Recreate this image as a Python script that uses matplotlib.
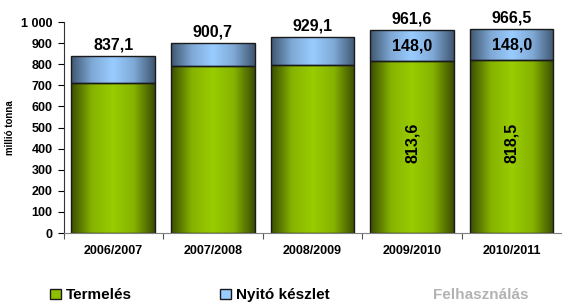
import matplotlib
matplotlib.use("Agg")
import matplotlib.pyplot as plt
import numpy as np
from matplotlib.colors import LinearSegmentedColormap
from matplotlib.patches import Patch

# data
years = ["2006/2007", "2007/2008", "2008/2009", "2009/2010", "2010/2011"]
termeles = [711.0, 791.0, 796.0, 813.6, 818.5]
totals = [837.1, 900.7, 929.1, 961.6, 966.5]
nyito = [t - p for t, p in zip(totals, termeles)]
inner_labels = ["", "", "", "813,6", "818,5"]
stock_labels = ["", "", "", "148,0", "148,0"]
top_labels = ["837,1", "900,7", "929,1", "961,6", "966,5"]

plt.rcParams['font.family'] = ['Liberation Sans', 'DejaVu Sans']
plt.rcParams['font.weight'] = 'bold'

green_cmap = LinearSegmentedColormap.from_list(
    "g", ["#3a4c00", "#86b300", "#99cc00", "#86b300", "#3a4c00"])
blue_cmap = LinearSegmentedColormap.from_list(
    "b", ["#3f5670", "#7fa9d6", "#99ccff", "#7fa9d6", "#3f5670"])

fig = plt.figure(figsize=(5.62, 3.03), dpi=100)
ax = fig.add_axes([0.113, 0.231, 0.886, 0.696])

x = np.arange(len(years))
w = 0.84
grad = np.linspace(0, 1, 256).reshape(1, -1)


def gradient_bars(bars, cmap):
    for b in bars:
        b.set_facecolor("none")
        x0, y0 = b.get_x(), b.get_y()
        im = ax.imshow(grad, cmap=cmap, aspect="auto",
                       extent=[x0, x0 + b.get_width(), y0, y0 + b.get_height()],
                       zorder=1)
        im.set_clip_path(b)


bars1 = ax.bar(x, termeles, width=w, edgecolor="#1a1a1a", linewidth=1.0, zorder=2)
gradient_bars(bars1, green_cmap)
bars2 = ax.bar(x, nyito, width=w, bottom=termeles, edgecolor="#1a1a1a",
               linewidth=1.0, zorder=2)
gradient_bars(bars2, blue_cmap)

for i in range(len(years)):
    ax.text(x[i], totals[i] + 18, top_labels[i], ha="center", va="bottom",
            fontsize=11.5, fontweight="bold")
    if stock_labels[i]:
        ax.text(x[i], termeles[i] + nyito[i] / 2, stock_labels[i], ha="center",
                va="center", fontsize=11.5, fontweight="bold")
    if inner_labels[i]:
        ax.text(x[i], 428, inner_labels[i], ha="center", va="center",
                rotation=90, fontsize=11.5, fontweight="bold")

ax.set_xlim(-0.5, 4.5)
ax.set_ylim(0, 1000)
ax.set_yticks(range(0, 1001, 100))
ax.set_yticklabels([f"{v:,}".replace(",", " ") for v in range(0, 1001, 100)],
                   fontsize=9, fontweight="bold")
ax.set_xticks(np.arange(-0.5, 4.5, 1.0))
ax.set_xticklabels([])
ax.tick_params(axis="x", length=4, color="#555555", direction="out")
ax.tick_params(axis="y", length=4, direction="out", pad=4)
for i, lab in enumerate(years):
    ax.text(x[i], -55, lab, ha="center", va="top", fontsize=9, fontweight="bold")

ax.spines["top"].set_visible(False)
ax.spines["right"].set_visible(False)
ax.spines["bottom"].set_color("#808080")
ax.spines["left"].set_color("#333333")
ax.set_ylabel("millió tonna", fontsize=7, fontweight="bold", labelpad=4)
ax.patch.set_visible(False)

handles = [Patch(facecolor="#8fbf00", edgecolor="#1a1a1a"),
           Patch(facecolor="#99ccff", edgecolor="#1a1a1a"),
           Patch(facecolor="none", edgecolor="none")]
leg = fig.legend(handles, ["Termelés", "Nyitó készlet", "Felhasználás"],
                 loc="center", bbox_to_anchor=(0.515, 0.025), ncol=3, frameon=False,
                 fontsize=11, handlelength=0.7, handleheight=0.7,
                 columnspacing=5.8, handletextpad=0.3)
leg.get_texts()[2].set_color("#b3b3b3")

fig.savefig("out.png", dpi=100)
